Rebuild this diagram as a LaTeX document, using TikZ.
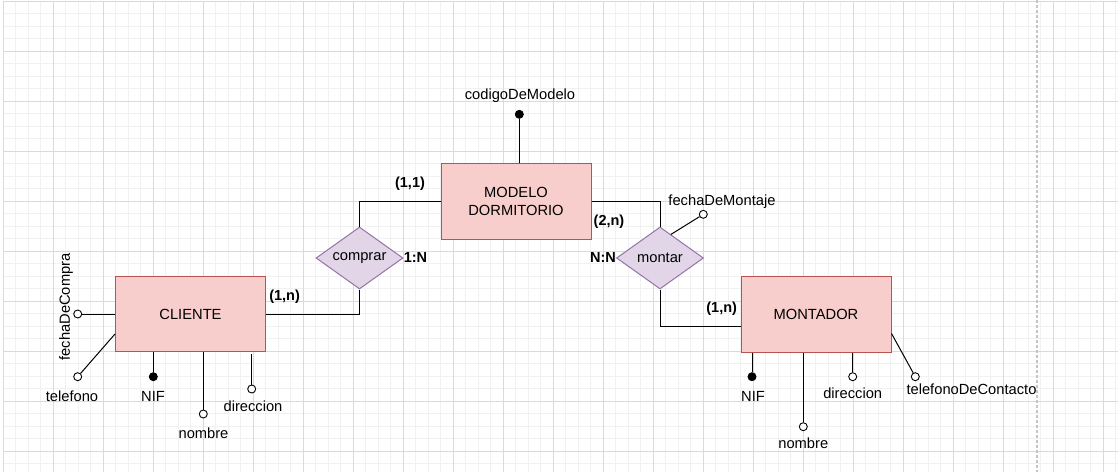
\documentclass[tikz,border=0pt]{standalone}
\usepackage{fontspec}
\setmainfont{Liberation Sans}
\usetikzlibrary{shapes.geometric,calc}
\definecolor{entfill}{HTML}{F8CECC}
\definecolor{entdraw}{HTML}{B85450}
\definecolor{relfill}{HTML}{E1D5E7}
\definecolor{reldraw}{HTML}{9673A6}
\definecolor{gridminor}{HTML}{F1F1F1}
\definecolor{gridmajor}{HTML}{DADADA}
\definecolor{pagebrk}{HTML}{C4C4C4}
\begin{document}
\begin{tikzpicture}[x=1pt,y=-1pt,
  every node/.style={font=\fontsize{14.7}{18}\selectfont},
  entity/.style={draw=entdraw, fill=entfill, minimum width=150pt, minimum height=75.5pt, inner sep=0pt, align=center, line width=1pt},
  relation/.style={diamond, draw=reldraw, fill=relfill, minimum width=87pt, minimum height=62pt, inner sep=0pt, shape aspect=1.4, line width=1pt},
  attr/.style={circle, draw=black, fill=white, inner sep=0pt, minimum size=8pt, line width=0.9pt},
  keyattr/.style={attr, fill=black},
  lbl/.style={inner sep=0pt},
  card/.style={inner sep=0pt, font=\fontsize{14.5}{17}\selectfont\bfseries},
  link/.style={draw=black, line width=1pt},
]
\fill[white] (0,0) rectangle (1118,472);
\useasboundingbox (0,0) rectangle (1118,472);
% grid
\foreach \x in {3,15.5,...,1118} \draw[gridminor, line width=1pt] (\x,1) -- (\x,472);
\foreach \y in {1,13.5,...,472} \draw[gridminor, line width=1pt] (3,\y) -- (1118,\y);
\foreach \x in {3,53,...,1103} \draw[gridmajor, line width=1pt] (\x,1) -- (\x,472);
\foreach \y in {1,51,...,451} \draw[gridmajor, line width=1pt] (3,\y) -- (1118,\y);
\draw[pagebrk, line width=1.2pt, dash pattern=on 3pt off 2pt] (1037,0) -- (1037,472);

% entities and relations
\node[entity] (mod) at (516,201.5) {MODELO\\DORMITORIO};
\node[entity] (cli) at (190.5,314) {CLIENTE};
\node[entity] (mon) at (816,314.5) {MONTADOR};
\node[relation] (comp) at (359.5,258) {comprar};
\node[relation] (mont) at (660,258) {montar};

\draw[link] (mod.west) -| (comp.north);
\draw[link] (comp.south) |- (cli.east);
\draw[link] (mod.east) -| (mont.north);
\draw[link] (mont.south) |- ([yshift=-12pt]mon.west);

% cardinalities
\node[card] (c11) at (410,184) {(1,1)};
\node[card] (c1N) at (415.5,258) {1:N};
\node[card] (c2n) at (609,222) {(2,n)};
\node[card] (cNN) at (603,258) {N:N};
\node[card] (c1nA) at (284.6,296.7) {(1,n)};
\node[card] (c1nB) at (721.7,309) {(1,n)};

% MODELO attributes
\node[keyattr] (cdm) at (519.3,114.3) {};
\node[lbl] (cdmL) at (520,96) {codigoDeModelo};
\draw[link] (mod.north -| cdm) -- (cdm);

% montar attribute
\node[attr] (fdm) at (703.3,214.3) {};
\node[lbl] (fdmL) at (722,201.5) {fechaDeMontaje};
\coordinate (fdmS) at ($(mont.north)!0.25!(mont.east)$);
\draw[link] (fdmS) -- (fdm);

% CLIENTE attributes
\node[attr] (fdc) at (77.7,314) {};
\node[lbl, rotate=90] (fdcL) at (66,307) {fechaDeCompra};
\draw[link] (cli.west) -- (fdc);
\node[attr] (tel1) at (77.7,376.7) {};
\node[lbl] (tel1L) at (72,396) {telefono};
\draw[link] ([yshift=-20pt]cli.west) -- (tel1);
\node[keyattr] (nif1) at (153.3,376.7) {};
\node[lbl] (nif1L) at (153,396) {NIF};
\draw[link] (cli.south -| nif1) -- (nif1);
\node[attr] (nom1) at (203.3,414) {};
\node[lbl] (nom1L) at (203.5,433) {nombre};
\draw[link] (cli.south -| nom1) -- (nom1);
\node[attr] (dir1) at (251.7,389) {};
\node[lbl] (dir1L) at (253,406) {direccion};
\coordinate (dir1S) at (251.7,354.3);
\draw[link] (dir1S) -- (dir1);

% MONTADOR attributes
\node[keyattr] (nif2) at (752,376.7) {};
\node[lbl] (nif2L) at (753,396) {NIF};
\draw[link] (mon.south -| nif2) -- (nif2);
\node[attr] (nom2) at (803.3,426.7) {};
\node[lbl] (nom2L) at (803.3,443.3) {nombre};
\draw[link] (mon.south -| nom2) -- (nom2);
\node[attr] (dir2) at (852.7,376.7) {};
\node[lbl] (dir2L) at (852.7,393.3) {direccion};
\draw[link] (mon.south -| dir2) -- (dir2);
\node[attr] (tel2) at (915.3,376.7) {};
\node[lbl] (tel2L) at (971.5,389) {telefonoDeContacto};
\draw[link] ([yshift=-19pt]mon.east) -- (tel2);
\end{tikzpicture}
\end{document}
